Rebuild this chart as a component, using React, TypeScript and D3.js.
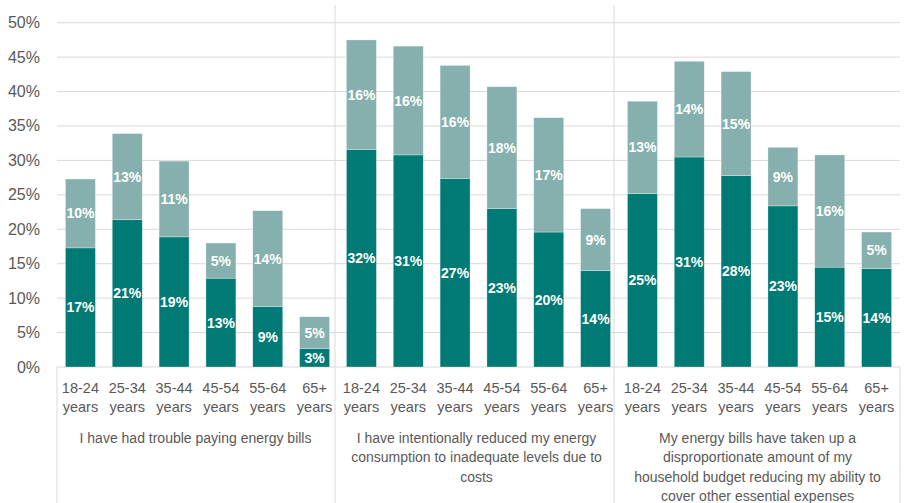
import React from "react";
import * as d3 from "d3";

const ageGroups = ["18-24", "25-34", "35-44", "45-54", "55-64", "65+"];
const statements = [
  ["I have had trouble paying energy bills"],
  ["I have intentionally reduced my energy", "consumption to inadequate levels due to", "costs"],
  ["My energy bills have taken up a", "disproportionate amount of my", "household budget reducing my ability to", "cover other essential expenses"],
];
// bottom (dark) segment values, in %
const bottomValues = [
  [17.3, 21.4, 18.9, 12.9, 8.8, 2.7],
  [31.6, 30.8, 27.4, 23.0, 19.6, 14.0],
  [25.2, 30.5, 27.8, 23.4, 14.5, 14.3],
];
// top (light) segment values, in %
const topValues = [
  [10.0, 12.5, 11.0, 5.1, 13.9, 4.6],
  [15.9, 15.8, 16.4, 17.7, 16.6, 9.0],
  [13.4, 13.9, 15.1, 8.5, 16.3, 5.3],
];
const yTicks = [0, 5, 10, 15, 20, 25, 30, 35, 40, 45, 50];

const W = 914;
const H = 503;
const left = 57;
const right = 900;
const y0 = 367;
const yTop = 22.7;
const DARK = "#007A75";
const LIGHT = "#85B0AD";
const GRID = "#D9D9D9";
const TEXT = "#595959";
const FONT = "'Liberation Sans', Arial, sans-serif";

export default function App() {
  const keys: string[] = [];
  statements.forEach((_, g) => ageGroups.forEach((a) => keys.push(`${g}|${a}`)));
  const x = d3.scaleBand<string>().domain(keys).range([left, right]).paddingInner(0.36).paddingOuter(0.18);
  const y = d3.scaleLinear().domain([0, 50]).range([y0, yTop]);
  const groupW = (right - left) / statements.length;

  const bars: React.ReactNode[] = [];
  statements.forEach((_, g) => {
    ageGroups.forEach((a, i) => {
      const k = `${g}|${a}`;
      const bx = x(k)!;
      const bw = x.bandwidth();
      const b = bottomValues[g][i];
      const t = topValues[g][i];
      const cx = bx + bw / 2;
      bars.push(
        <g key={k}>
          <rect x={bx} y={y(b)} width={bw} height={y(0) - y(b)} fill={DARK} stroke="#ffffff" strokeOpacity={0.5} strokeWidth={0.6} />
          <rect x={bx} y={y(b + t)} width={bw} height={y(b) - y(b + t)} fill={LIGHT} stroke="#ffffff" strokeOpacity={0.5} strokeWidth={0.6} />
          <text x={cx} y={(y(0) + y(b)) / 2 + 5} textAnchor="middle" fill="#fff" fontWeight="bold" fontSize={14}>{`${Math.round(b)}%`}</text>
          <text x={cx} y={(y(b) + y(b + t)) / 2 + 5} textAnchor="middle" fill="#fff" fontWeight="bold" fontSize={14}>{`${Math.round(t)}%`}</text>
        </g>
      );
    });
  });

  return (
    <svg width={W} height={H} style={{ position: "absolute", left: 0, top: 0, fontFamily: FONT }}>
      <rect width={W} height={H} fill="#fff" />
      {yTicks.map((v) => (
        <g key={v}>
          <line x1={left} x2={right} y1={y(v)} y2={y(v)} stroke={GRID} strokeWidth={1} />
          <text x={40} y={y(v) + 5.5} textAnchor="end" fill={TEXT} fontSize={16}>{`${v}%`}</text>
        </g>
      ))}
      <line x1={left} x2={left} y1={y0} y2={H} stroke={GRID} />
      <line x1={right} x2={right} y1={y0} y2={H} stroke={GRID} />
      {[1, 2].map((g) => (
        <line key={g} x1={left + g * groupW - 2 * g - 1} x2={left + g * groupW - 2 * g - 1} y1={5} y2={H} stroke={GRID} />
      ))}
      {bars}
      {statements.map((lines, g) =>
        ageGroups.map((a) => {
          const cx = x(`${g}|${a}`)! + x.bandwidth() / 2;
          return (
            <text key={`${g}-${a}`} textAnchor="middle" fill={TEXT} fontSize={14.5}>
              <tspan x={cx} y={393}>{a}</tspan>
              <tspan x={cx} y={412}>years</tspan>
            </text>
          );
        })
      )}
      {statements.map((lines, g) => {
        const cx = left + (g + 0.5) * groupW - 2;
        return (
          <text key={g} textAnchor="middle" fill={TEXT} fontSize={14}>
            {lines.map((l, i) => (
              <tspan key={i} x={cx} y={443 + i * 19.3}>{l}</tspan>
            ))}
          </text>
        );
      })}
    </svg>
  );
}
